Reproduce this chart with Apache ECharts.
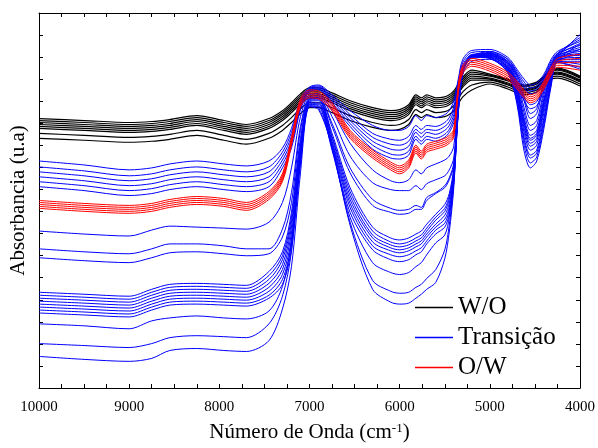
<!DOCTYPE html>
<html>
<head>
<meta charset="utf-8">
<script src="https://cdn.jsdelivr.net/npm/echarts/dist/echarts.min.js"></script>
<style>
  html, body { margin: 0; padding: 0; background: #fff; }
  #chart { width: 598px; height: 448px; }
</style>
</head>
<body>
<div id="chart"></div>
<script>
// Wavenumbers (cm-1) at which every spectrum is sampled
const wavenumbers = [10000, 9500, 9000, 8750, 8550, 8250, 7950, 7700, 7450, 7300,
  7200, 7100, 7000, 6900, 6750, 6550, 6300, 6100, 6000, 5900,
  5820, 5760, 5700, 5600, 5500, 5450, 5400, 5350, 5300, 5200,
  5000, 4800, 4700, 4620, 4550, 4480, 4400, 4320, 4250, 4000];

// Absorbance (arbitrary units, stacked) — water-in-oil emulsions
const woSpectra = [
  [273,271,269,270,272,276,271,267,273,281,289,298,304,304,299,291,284,281,282,287,297,294,297,294,295,297,301,308,315,322,318,313,309,307,308,310,316,323,324,316],
  [271,269,267,268,270,274,269,265,271,279,287,296,302,302,297,289,282,279,280,285,295,292,295,292,293,295,299,306,313,320,317,312,308,306,307,309,315,322,323,315],
  [269,267,265,266,268,272,267,263,269,277,285,294,300,300,295,287,280,277,278,283,293,290,293,290,291,293,297,304,311,318,316,311,307,305,306,308,314,321,322,314],
  [267,265,263,264,266,270,265,261,267,275,283,292,298,298,293,285,278,275,276,281,291,288,291,288,289,291,295,302,309,316,314,309,305,303,304,306,312,319,320,312],
  [265,263,261,262,264,268,263,259,265,273,281,290,296,296,291,283,276,273,274,279,289,286,289,286,287,289,293,300,307,314,313,308,304,302,303,305,311,318,319,311],
  [263,261,259,260,262,266,261,257,263,271,279,288,294,294,289,281,274,271,272,277,287,284,287,284,285,287,291,298,305,312,312,307,303,301,302,304,310,317,318,310],
  [258,256,254,255,257,261,256,252,258,266,274,283,289,289,284,276,269,266,267,272,282,279,282,279,280,282,286,293,300,307,310,305,301,299,300,302,308,315,316,308],
  [253,251,249,250,252,256,251,247,253,261,269,278,284,284,279,271,264,261,262,267,277,274,277,274,275,277,281,288,295,302,308,303,299,297,298,300,306,313,314,306]
];

// Transition samples
const transicaoSpectra = [
  [230,226,221,223,227,230,227,225,230,243,263,292,305,307,297,281,266,261,261,265,276,271,276,274,277,281,291,313,333,342,343,335,323,313,307,309,318,333,341,351],
  [224,220,215,217,221,224,221,219,224,239,259,290,304,306,295,277,258,252,251,255,266,262,266,265,269,274,285,309,330,340,341,333,321,310,304,306,316,331,339,347],
  [219,215,210,212,216,219,216,214,219,235,255,288,303,305,293,274,254,247,246,250,262,258,262,261,265,270,281,305,327,338,339,331,319,307,301,303,314,329,337,343],
  [214,210,205,207,211,214,211,209,214,231,251,286,302,304,291,271,250,242,241,245,259,254,259,257,261,266,277,301,324,336,337,329,317,304,298,300,312,327,335,339],
  [209,205,200,202,206,209,206,204,209,227,247,284,301,303,289,268,246,237,236,240,255,250,255,253,257,262,273,297,321,334,335,325,311,295,287,290,305,323,333,335],
  [204,200,195,197,201,204,201,199,204,223,243,282,300,302,287,265,242,233,232,236,252,247,252,250,254,259,269,293,318,331,333,323,308,291,283,286,302,321,331,331],
  [159,156,154,160,164,163,162,161,168,188,223,275,297,298,281,248,221,210,208,211,221,217,223,227,231,235,245,293,323,336,341,333,318,295,278,283,311,327,339,355],
  [141,138,136,141,146,146,144,141,141,161,198,265,295,296,275,235,208,201,200,200,205,201,207,211,215,221,233,289,322,336,340,331,315,291,273,278,307,325,338,353],
  [132,129,127,132,137,138,136,134,136,153,188,261,293,294,268,223,191,182,180,181,185,183,193,198,205,213,228,287,321,335,339,330,312,284,266,271,301,323,337,349],
  [97,95,93,100,105,106,105,104,118,138,178,253,293,294,265,218,185,178,176,177,181,181,190,197,203,211,225,285,321,335,339,329,309,279,261,266,297,321,336,345],
  [94,92,90,97,102,103,102,101,114,134,173,249,292,293,258,203,163,152,150,152,156,159,166,176,186,197,223,283,320,337,338,328,306,274,256,261,293,319,335,341],
  [91,89,87,94,99,100,99,98,110,130,168,245,291,292,255,199,159,148,146,148,152,155,162,173,182,194,220,282,320,337,338,327,304,271,253,258,291,318,335,358],
  [88,86,84,91,96,97,96,95,106,125,163,242,290,291,253,195,155,145,143,145,149,152,159,170,179,191,218,281,320,337,337,326,303,269,251,256,289,317,334,337],
  [85,83,81,88,93,94,93,92,102,120,157,238,289,289,250,191,152,142,140,142,146,149,156,166,175,187,215,280,319,336,337,325,301,266,248,253,286,315,333,348],
  [82,80,78,85,90,91,90,89,98,115,151,235,288,288,248,187,148,139,137,139,143,146,153,163,171,183,213,280,319,336,336,324,299,263,245,250,283,314,333,333],
  [79,77,75,82,87,88,87,86,94,110,146,232,287,287,246,183,144,135,133,135,139,142,149,160,167,180,210,279,319,336,336,323,297,259,241,246,279,312,332,343],
  [76,74,72,79,84,85,84,83,91,105,141,228,285,285,243,178,140,130,128,130,135,138,146,156,163,176,208,278,319,336,335,322,294,254,236,241,274,310,331,328],
  [65,63,60,68,71,73,71,70,78,103,148,233,287,286,241,173,127,117,115,117,123,127,135,147,155,173,213,288,323,337,335,321,293,251,233,238,271,309,331,338],
  [45,43,41,45,51,53,52,51,65,93,138,228,286,284,243,168,109,98,96,97,102,105,111,120,140,165,208,285,322,336,334,320,290,246,228,234,267,308,330,325],
  [32,29,27,30,38,40,38,37,48,80,123,218,285,282,245,165,100,87,85,86,91,95,100,107,131,158,203,283,321,335,334,319,288,240,223,230,263,306,330,323]
];

// Oil-in-water emulsions
const owSpectra = [
  [190,187,185,187,191,194,192,188,199,217,254,293,302,301,289,261,241,229,225,231,246,240,247,250,253,256,262,307,327,334,329,320,311,302,297,300,311,325,334,338],
  [188,185,183,185,189,192,190,186,197,215,252,291,300,299,287,259,239,227,223,229,244,238,245,248,251,254,260,305,325,332,327,318,309,300,295,298,309,323,331,334],
  [186,183,181,183,187,190,188,184,195,213,250,289,298,297,285,257,237,225,221,227,242,236,243,246,249,252,258,303,323,330,325,316,307,298,293,296,307,321,329,330],
  [184,181,179,181,185,188,186,182,193,211,248,287,296,295,283,255,235,223,219,225,240,234,241,244,247,250,256,301,321,328,323,314,305,296,291,294,305,319,327,326],
  [182,179,177,179,183,186,184,180,191,209,246,285,294,293,281,253,233,221,217,223,238,232,239,242,245,248,254,299,319,326,321,312,303,294,289,292,303,317,325,322]
];

const groupNames = ['W/O', 'Transição', 'O/W'];
const groupColors = ['#000000', '#0000ff', '#ff0000'];

const serif = 'Liberation Serif';

function buildSeries(name, color, rows, width) {
  return rows.map(function (row) {
    return {
      name: name,
      type: 'line',
      data: row.map(function (v, i) { return [wavenumbers[i], v]; }),
      smooth: 0.3,
      symbol: 'none',
      showSymbol: false,
      silent: true,
      lineStyle: { color: color, width: width },
      itemStyle: { color: color },
      emphasis: { disabled: true }
    };
  });
}

const series = []
  .concat(buildSeries(groupNames[0], groupColors[0], woSpectra, 1.2))
  .concat(buildSeries(groupNames[1], groupColors[1], transicaoSpectra, 1))
  .concat(buildSeries(groupNames[2], groupColors[2], owSpectra, 1));

const xCommon = {
  type: 'value', inverse: true, min: 4000, max: 10000, interval: 1000,
  axisLine: { show: true, onZero: false, lineStyle: { color: '#000', width: 1 } },
  axisTick: { show: true, inside: true, length: 4, lineStyle: { color: '#000' } },
  minorTick: { show: true, splitNumber: 4, length: 4, lineStyle: { color: '#000' } },
  splitLine: { show: false }
};
const yCommon = {
  type: 'value', min: 0, max: 379.95, interval: 22.35,
  axisLine: { show: true, onZero: false, lineStyle: { color: '#000', width: 1 } },
  axisTick: { show: true, inside: true, length: 4, lineStyle: { color: '#000' } },
  axisLabel: { show: false },
  splitLine: { show: false }
};

const chart = echarts.init(document.getElementById('chart'), null, { renderer: 'canvas' });
chart.setOption({
  animation: false,
  backgroundColor: '#fff',
  grid: { left: 37, right: 15, top: 13, bottom: 55, containLabel: false },
  legend: {
    data: groupNames,
    orient: 'vertical',
    left: 410, top: 290,
    itemWidth: 38, itemHeight: 1.5, itemGap: 5,
    icon: 'rect',
    textStyle: { fontFamily: serif, fontSize: 25, color: '#000' },
    selectedMode: false
  },
  xAxis: [
    Object.assign({}, xCommon, {
      position: 'bottom',
      axisLabel: {
        show: true, margin: 12, fontFamily: serif, fontSize: 15, color: '#000',
        formatter: function (v) { return String(v); }
      },
      name: 'Número de Onda (cm{sup|-1})',
      nameLocation: 'middle', nameGap: 34,
      nameTextStyle: {
        fontFamily: serif, fontSize: 21, color: '#000',
        rich: { sup: { fontFamily: serif, fontSize: 13, color: '#000', verticalAlign: 'top', padding: [0, 0, 8, 0] } }
      }
    }),
    Object.assign({}, xCommon, { position: 'top', axisLabel: { show: false } })
  ],
  yAxis: [
    Object.assign({}, yCommon, {
      position: 'left',
      name: 'Absorbancia (u.a)',
      nameLocation: 'middle', nameGap: 10,
      nameTextStyle: { fontFamily: serif, fontSize: 21, color: '#000' }
    }),
    Object.assign({}, yCommon, { position: 'right' })
  ],
  series: series
});
</script>
</body>
</html>
